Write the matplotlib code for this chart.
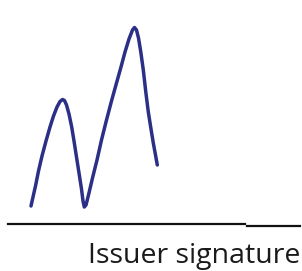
import matplotlib
matplotlib.use("Agg")
import matplotlib.pyplot as plt

# signature stroke (pixel coords, y down)
sig_x = [31, 33, 35.5, 38.5, 42, 46, 50, 53.5, 57, 60, 62.5, 64.5, 66.5, 69, 71.7, 74, 76.5, 79,
         81.5, 83, 84.3, 86, 88.5, 92.5, 97, 101.5, 106.5, 111.5, 116.5, 121, 125, 129, 132.5,
         134.5, 136.5, 138.5, 140.8, 143.3, 145.8, 148.3, 151, 153.3, 155.5, 157.3]
sig_y = [206, 197, 186, 171, 156, 141, 127, 116, 107, 101.5, 99.5, 100.5, 105, 114, 127, 141, 157, 173,
         189, 201, 207, 205, 195, 178, 160, 140, 120, 101, 83, 67, 52, 39, 30,
         27.5, 30, 38, 52, 70, 92, 112, 129, 143, 155, 165]

# underline segments
line1_x = [8, 245]
line1_y = [223.5, 223.5]
line2_x = [247, 300]
line2_y = [225.5, 225.5]

label = "Issuer signature"

W, H = 302, 271
fig = plt.figure(figsize=(W / 100, H / 100), dpi=100)
ax = fig.add_axes([0, 0, 1, 1])
ax.set_xlim(0, W)
ax.set_ylim(H, 0)
ax.axis("off")

ax.plot(sig_x, sig_y, color="#2b2f86", lw=2.5, solid_capstyle="round", solid_joinstyle="round")
ax.plot(line1_x, line1_y, color="#111111", lw=1.6)
ax.plot(line2_x, line2_y, color="#111111", lw=1.6)

ax.text(300, 263, label, ha="right", va="baseline", fontsize=20.5,
        family=["Open Sans", "DejaVu Sans"], color="#1a1a1a")

fig.savefig("out.png", dpi=100, facecolor="white")
